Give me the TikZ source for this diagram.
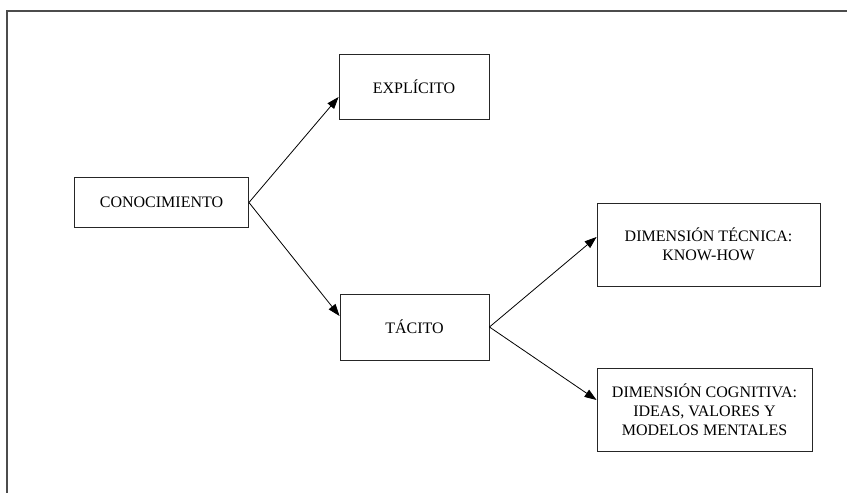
\documentclass[tikz,border=0pt]{standalone}
\usepackage{fontspec}
\setmainfont{Liberation Serif}
\usetikzlibrary{arrows.meta}
\begin{document}
\begin{tikzpicture}[x=1pt,y=-1pt,
  box/.style={draw=black!85, line width=0.9pt, fill=white, inner sep=0pt,
    align=center, font=\fontsize{16}{19}\selectfont},
  link/.style={draw=black, line width=0.8pt,
    -{Triangle[length=12pt,width=8.5pt]}},
  frame/.style={draw=black!70, line width=2.4pt}]
  \useasboundingbox (0,0) rectangle (847,493);
  % page frame: only its top and left edges fall inside the picture
  \coordinate (fbl) at (7,493);
  \coordinate (ftl) at (7,11);
  \coordinate (ftr) at (847,11);
  \draw[frame] (fbl) -- (ftl) -- (ftr);
  % boxes
  \node[box, minimum width=174pt, minimum height=50pt] (con) at (161.5,202.5) {CONOCIMIENTO};
  \node[box, minimum width=150pt, minimum height=65pt] (exp) at (414,86.5) {EXPLÍCITO};
  \node[box, minimum width=149pt, minimum height=66pt] (tac) at (414.5,327) {TÁCITO};
  \node[box, minimum width=223pt, minimum height=83pt] (tec) at (708.5,244.5) {DIMENSIÓN TÉCNICA:\\KNOW-HOW};
  \node[box, minimum width=215pt, minimum height=83pt] (cog) at (704.5,409.5) {DIMENSIÓN COGNITIVA:\\IDEAS, VALORES Y\\MODELOS MENTALES};
  % connectors
  \draw[link] (con.east) -- ([yshift=-10.5pt]exp.west);
  \draw[link] (con.east) -- ([yshift=11pt]tac.west);
  \draw[link] (tac.east) -- ([yshift=7.5pt]tec.west);
  \draw[link] (tac.east) -- ([yshift=9.5pt]cog.west);
\end{tikzpicture}
\end{document}
